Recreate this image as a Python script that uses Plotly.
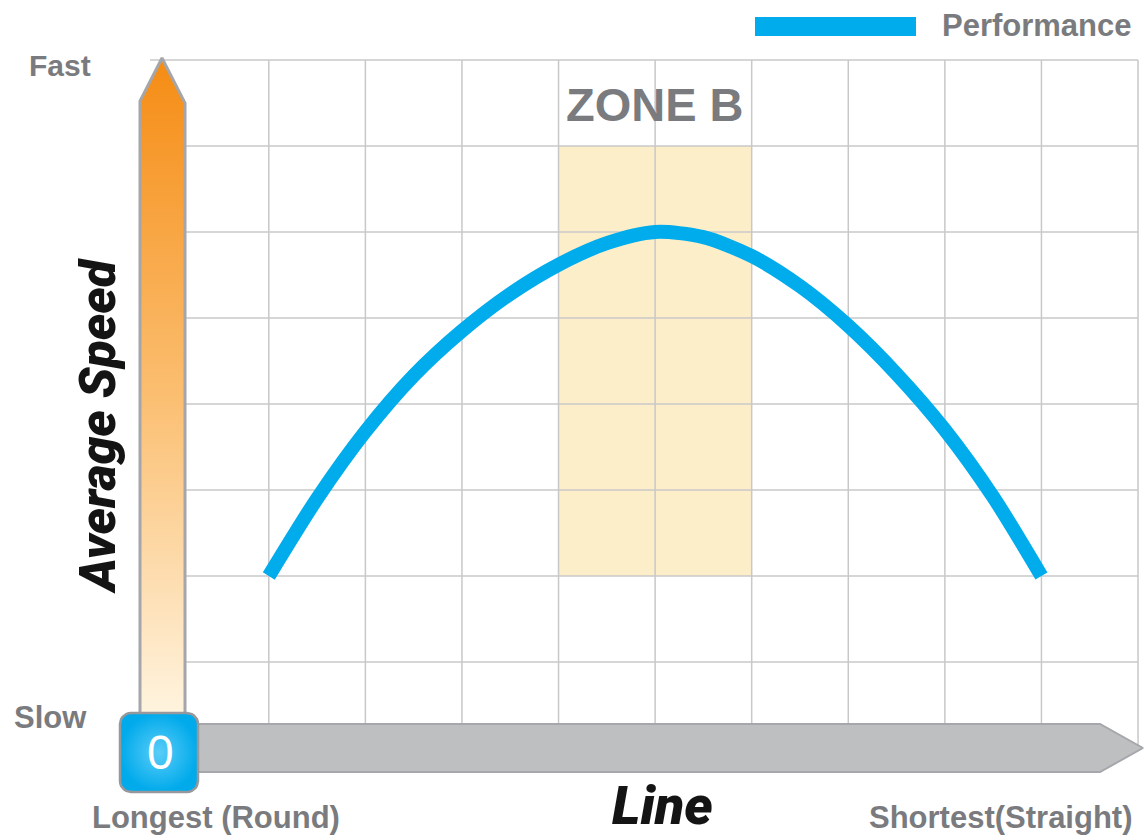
import numpy as np
import plotly.graph_objects as go

# ---------------- data ----------------
line_pos = [0, 0.5, 1, 1.5, 2, 2.5, 3, 3.5, 4, 4.5, 5, 5.5, 6, 6.5, 7, 7.5, 8]
performance = [2.0, 2.90, 3.68, 4.33, 4.85, 5.28, 5.62, 5.87, 6.0, 5.94, 5.72, 5.37, 4.91, 4.35, 3.70, 2.92, 2.0]
grid_x = [0, 1, 2, 3, 4, 5, 6, 7, 8, 9]
grid_y = [1, 2, 3, 4, 5, 6, 7, 8]
zone_x = [3, 5]
zone_y = [2, 7]
zone_label = "ZONE B"
series_name = "Performance"

# ---------------- geometry (page pixels -> axis units) ----------------
W, H = 1144, 838
X0_PX, X_STEP = 268.8, 96.58
Y0_PX, Y_STEP = 748.0, 86.0


def px2x(px):
    return (px - X0_PX) / X_STEP


def py2y(py):
    return (Y0_PX - py) / Y_STEP


def pap(px, py):
    return px / W, 1 - py / H


GRAY_TXT = "rgb(122,123,126)"
GRID = "rgb(200,200,202)"
BLUE = "rgb(0,172,236)"
SANS = "Liberation Sans, Arial, sans-serif"
DISPLAY = "Roboto, Liberation Sans, Arial, sans-serif"

fig = go.Figure()
shapes = []

# zone band
shapes.append(dict(type="rect", layer="below", xref="x", yref="y",
                   x0=zone_x[0], x1=zone_x[1], y0=zone_y[0], y1=zone_y[1],
                   fillcolor="rgb(253,238,202)", line=dict(width=0)))
# grid lines
for gx in grid_x:
    shapes.append(dict(type="line", layer="below", xref="x", yref="y",
                       x0=gx, x1=gx, y0=0, y1=grid_y[-1],
                       line=dict(color=GRID, width=1.5)))
for gy in grid_y:
    shapes.append(dict(type="line", layer="below", xref="x", yref="y",
                       x0=px2x(150), x1=grid_x[-1], y0=gy, y1=gy,
                       line=dict(color=GRID, width=1.5)))

# performance curve
fig.add_trace(go.Scatter(x=line_pos, y=performance, mode="lines", name=series_name,
                         line=dict(color=BLUE, width=14, shape="spline", smoothing=0.8),
                         showlegend=False, hoverinfo="skip"))

# vertical orange arrow (speed axis)
vx = [px2x(140), px2x(140), px2x(162), px2x(185), px2x(185), px2x(140)]
vy = [py2y(728), py2y(101), py2y(58), py2y(103), py2y(728), py2y(728)]
fig.add_trace(go.Scatter(x=vx, y=vy, mode="lines", fill="toself",
                         fillgradient=dict(type="vertical",
                                           colorscale=[[0, "rgb(255,246,228)"],
                                                       [0.5, "rgb(251,190,112)"],
                                                       [1, "rgb(245,140,20)"]]),
                         line=dict(color="rgb(165,166,169)", width=3),
                         showlegend=False, hoverinfo="skip"))

# horizontal grey arrow (line axis)
hx = [px2x(185), px2x(1100), px2x(1143), px2x(1100), px2x(185), px2x(185)]
hy = [py2y(724), py2y(724), py2y(748), py2y(772), py2y(772), py2y(724)]
fig.add_trace(go.Scatter(x=hx, y=hy, mode="lines", fill="toself",
                         fillcolor="rgb(189,191,193)",
                         line=dict(color="rgb(165,167,170)", width=2),
                         showlegend=False, hoverinfo="skip"))

# blue origin square with rounded corners
L, R, T, B, rad = 120, 198, 713, 792, 11
pts = []
for cx, cy, a0 in [(R - rad, T + rad, -90), (R - rad, B - rad, 0), (L + rad, B - rad, 90), (L + rad, T + rad, 180)]:
    for a in np.linspace(a0, a0 + 90, 8):
        pts.append((cx + rad * np.cos(np.radians(a)), cy + rad * np.sin(np.radians(a))))
pts.append(pts[0])
fig.add_trace(go.Scatter(x=[px2x(p[0]) for p in pts], y=[py2y(p[1]) for p in pts],
                         mode="lines", fill="toself",
                         fillgradient=dict(type="radial",
                                           colorscale=[[0, "rgb(90,205,248)"], [1, "rgb(0,170,235)"]]),
                         line=dict(color="rgb(150,152,155)", width=2.5),
                         showlegend=False, hoverinfo="skip"))

# legend swatch
lx0, ly0 = pap(755, 17)
lx1, ly1 = pap(916, 36)
shapes.append(dict(type="rect", xref="paper", yref="paper", x0=lx0, x1=lx1, y0=ly1, y1=ly0,
                   fillcolor=BLUE, line=dict(width=0)))

annotations = []


def add_text(text, px, py, size, color, family=SANS, xanchor="center", angle=0, style="normal", weight="bold"):
    ax, ay = pap(px, py)
    annotations.append(dict(text=text, x=ax, y=ay, xref="paper", yref="paper", showarrow=False,
                            xanchor=xanchor, yanchor="middle", textangle=angle,
                            font=dict(family=family, size=size, color=color, style=style, weight=weight)))


add_text(zone_label, 655, 104, 47, GRAY_TXT)
add_text(series_name, 940, 25, 31, GRAY_TXT, xanchor="left")
add_text("Fast", 60, 65, 30, GRAY_TXT)
add_text("Slow", 50, 717, 31, GRAY_TXT)
add_text("Longest (Round)", 216, 817, 31, GRAY_TXT)
add_text("Shortest(Straight)", 1001, 817, 31, GRAY_TXT)
add_text("Average Speed", 98, 426, 50, "rgb(20,20,20)", family=DISPLAY, angle=-90, style="italic", weight=900)
add_text("Line", 662, 805, 54, "rgb(20,20,20)", family=DISPLAY, style="italic", weight=900)
add_text("0", 160, 752, 48, "white", weight="normal")

fig.update_layout(
    width=W, height=H, margin=dict(l=0, r=0, t=0, b=0),
    paper_bgcolor="white", plot_bgcolor="white",
    xaxis=dict(range=[px2x(0), px2x(W)], visible=False, fixedrange=True),
    yaxis=dict(range=[py2y(H), py2y(0)], visible=False, fixedrange=True),
    shapes=shapes, annotations=annotations, showlegend=False,
)

fig.write_html("out.html")
